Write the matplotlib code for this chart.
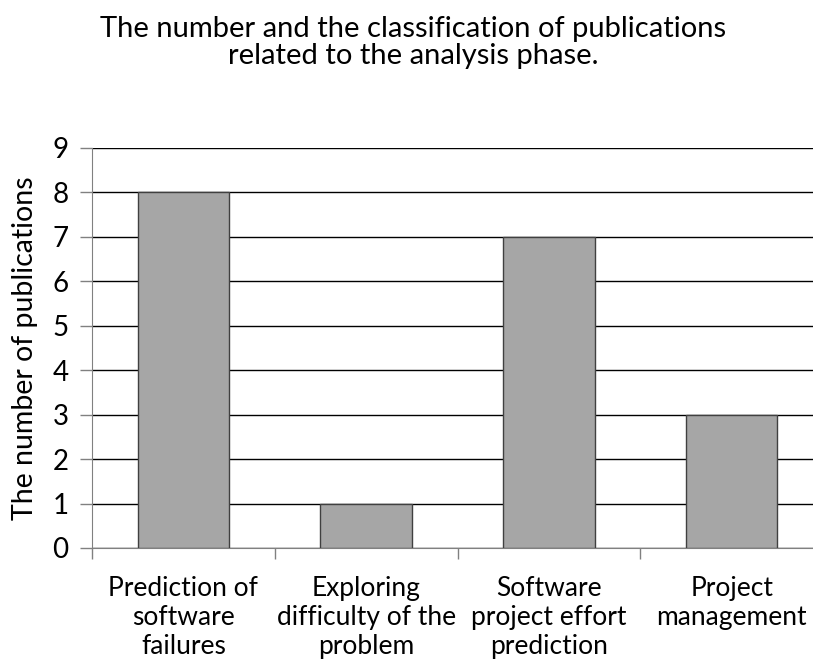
import matplotlib
matplotlib.use("Agg")
import matplotlib.pyplot as plt
import numpy as np

categories = ["Prediction of\nsoftware\nfailures",
              "Exploring\ndifficulty of the\nproblem",
              "Software\nproject effort\nprediction",
              "Project\nmanagement"]
values = [8, 1, 7, 3]
yticks = list(range(0, 10))

plt.rcParams['font.family'] = ['Lato', 'DejaVu Sans']

W, H = 813, 666
fig = plt.figure(figsize=(W/100, H/100), dpi=100)
left, right, bottom, top = 92, 823, 548, 148
ax = fig.add_axes([left/W, 1-bottom/H, (right-left)/W, (bottom-top)/H])

x = np.arange(len(categories))
ax.bar(x, values, width=0.5, color='#a6a6a6', edgecolor='#404040', linewidth=1, zorder=3)
ax.set_xlim(-0.5, len(categories)-0.5)
ax.set_ylim(0, 9)
ax.set_yticks(yticks)
ax.set_yticklabels([str(v) for v in yticks], fontsize=20)
ax.yaxis.grid(True, color='black', linewidth=1)
ax.set_axisbelow(True)
for s in ['top', 'right']:
    ax.spines[s].set_visible(False)
ax.spines['left'].set_color('#808080')
ax.spines['bottom'].set_color('#808080')
ax.tick_params(axis='y', length=9, width=1, color='#808080', pad=8)

ax.set_xticks(np.arange(-0.5, len(categories)), minor=True)
ax.set_xticks(x)
ax.set_xticklabels(categories, fontsize=19, linespacing=1.2)
ax.tick_params(axis='x', which='major', length=0, pad=20)
ax.tick_params(axis='x', which='minor', length=8, width=1, color='#808080')

ax.set_ylabel("The number of publications", fontsize=20.5, labelpad=10)

fig.text(413/W, 1-37/H, "The number and the classification of publications",
         ha='center', va='baseline', fontsize=21)
fig.text(413/W, 1-64/H, "related to the analysis phase.",
         ha='center', va='baseline', fontsize=21)

fig.savefig("out.png", dpi=100)
